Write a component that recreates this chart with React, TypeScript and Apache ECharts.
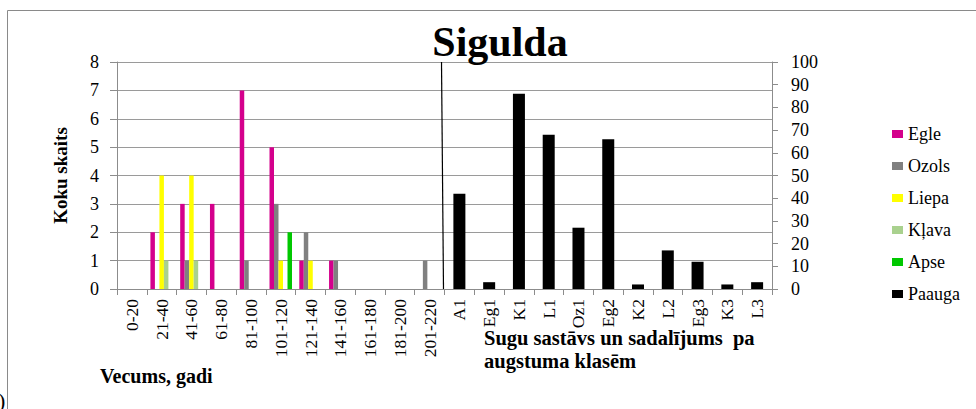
import React, { useEffect, useRef } from "react";
import * as echarts from "echarts";

const ageClasses = ["0-20", "21-40", "41-60", "61-80", "81-100", "101-120", "121-140", "141-160", "161-180", "181-200", "201-220"];
const heightClasses = ["A1", "Eg1", "K1", "L1", "Oz1", "Eg2", "K2", "L2", "Eg3", "K3", "L3"];
const categories = [...ageClasses, ...heightClasses];

const egle = [0, 2, 3, 3, 7, 5, 1, 1, 0, 0, 0];
const ozols = [0, 0, 1, 0, 1, 3, 2, 1, 0, 0, 1];
const liepa = [0, 4, 4, 0, 0, 1, 1, 0, 0, 0, 0];
const klava = [0, 1, 1, 0, 0, 0, 0, 0, 0, 0, 0];
const apse = [0, 0, 0, 0, 0, 2, 0, 0, 0, 0, 0];
const paauga = [42, 3, 86, 68, 27, 66, 2, 17, 12, 2, 3];

const leftTicks = { min: 0, max: 8, interval: 1 };
const rightTicks = { min: 0, max: 100, interval: 10 };

const SERIF = "'Liberation Serif', 'Times New Roman', serif";

export default function App() {
  const ref = useRef<HTMLDivElement>(null);
  useEffect(() => {
    if (!ref.current) return;
    const chart = echarts.init(ref.current, null, { renderer: "svg" });
    const pad = (arr: number[]) => [...arr, ...heightClasses.map(() => null)];
    const species = [
      { name: "Egle", data: egle, color: "#d4008c" },
      { name: "Ozols", data: ozols, color: "#808080" },
      { name: "Liepa", data: liepa, color: "#ffff00" },
      { name: "Kļava", data: klava, color: "#a9d18e" },
      { name: "Apse", data: apse, color: "#00c800" },
    ];
    const axisGray = "#8c8c8c";
    const option: any = {
      animation: false,
      backgroundColor: "#ffffff",
      title: {
        text: "Sigulda",
        left: 495,
        top: 16,
        textAlign: "center",
        textStyle: { fontFamily: SERIF, fontWeight: "bold", fontSize: 42, color: "#000" },
      },
      legend: {
        orient: "vertical",
        left: 887,
        top: 120,
        itemWidth: 11,
        itemHeight: 8,
        itemGap: 14,
        icon: "rect",
        textStyle: { fontFamily: SERIF, fontSize: 18, lineHeight: 17, color: "#000" },
        data: ["Egle", "Ozols", "Liepa", "Kļava", "Apse", "Paauga"],
      },
      grid: { left: 117, right: 204, top: 62, bottom: 120 },
      xAxis: [
        {
          type: "category",
          data: categories,
          axisLine: { lineStyle: { color: axisGray } },
          axisTick: { show: true, interval: 0, length: 6, lineStyle: { color: axisGray } },
          axisLabel: {
            interval: 0,
            rotate: 90,
            margin: 10,
            fontFamily: SERIF,
            fontSize: 17.5,
            color: "#000",
          },
        },
        { type: "category", data: categories, show: false },
      ],
      yAxis: [
        {
          type: "value",
          ...leftTicks,
          name: "Koku skaits",
          nameLocation: "middle",
          nameRotate: 90,
          nameGap: 47,
          nameTextStyle: { fontFamily: SERIF, fontWeight: "bold", fontSize: 19, color: "#000" },
          axisLine: { show: true, lineStyle: { color: axisGray } },
          axisTick: { show: true, length: 7, lineStyle: { color: axisGray } },
          axisLabel: { margin: 18, fontFamily: SERIF, fontSize: 18, color: "#000" },
          splitLine: { show: true, lineStyle: { color: "#9a9a9a", width: 1 } },
        },
        {
          type: "value",
          ...rightTicks,
          position: "right",
          axisLine: { show: true, lineStyle: { color: axisGray } },
          axisTick: { show: true, length: 6, lineStyle: { color: axisGray } },
          axisLabel: { margin: 19, fontFamily: SERIF, fontSize: 18, color: "#000" },
          splitLine: { show: false },
        },
      ],
      series: [
        ...species.map((s) => ({
          name: s.name,
          type: "bar",
          xAxisIndex: 0,
          yAxisIndex: 0,
          barWidth: 4.5,
          barGap: "0%",
          itemStyle: { color: s.color },
          data: pad(s.data),
        })),
        {
          name: "Paauga",
          type: "bar",
          xAxisIndex: 1,
          yAxisIndex: 1,
          barWidth: 12,
          itemStyle: { color: "#000000" },
          data: [...ageClasses.map(() => null), ...paauga],
        },
      ],
    };
    chart.setOption(option);

    const xa = chart.convertToPixel({ xAxisIndex: 0 }, ageClasses[ageClasses.length - 1]) as number;
    const xb = chart.convertToPixel({ xAxisIndex: 0 }, heightClasses[0]) as number;
    const yTop = chart.convertToPixel({ yAxisIndex: 0 }, leftTicks.max) as number;
    const yBot = chart.convertToPixel({ yAxisIndex: 0 }, leftTicks.min) as number;
    const xMid = (xa + xb) / 2;

    chart.setOption({
      graphic: [
        {
          id: "border",
          type: "rect",
          shape: { x: 7.5, y: 10.5, width: 1000, height: 500 },
          style: { fill: "none", stroke: "#8a8a8a", lineWidth: 1 },
          silent: true,
        },
        {
          id: "divider",
          type: "line",
          shape: { x1: xMid - 3, y1: yTop, x2: xMid - 1, y2: yBot + 1 },
          style: { stroke: "#000", lineWidth: 1.2 },
          silent: true,
        },
        {
          id: "ageTitle",
          type: "text",
          x: 100,
          y: 366,
          style: {
            text: "Vecums, gadi",
            fontFamily: SERIF,
            fontWeight: "bold",
            fontSize: 20,
            fill: "#000",
            verticalAlign: "top",
          },
        },
        {
          id: "heightTitle",
          type: "text",
          x: 484,
          y: 326,
          style: {
            text: "Sugu sastāvs un sadalījums  pa\naugstuma klasēm",
            fontFamily: SERIF,
            fontWeight: "bold",
            fontSize: 20.5,
            lineHeight: 23,
            fill: "#000",
            verticalAlign: "top",
          },
        },
        {
          id: "paren",
          type: "text",
          x: -2,
          y: 389,
          style: { text: ")", fontFamily: SERIF, fontSize: 22, fill: "#000", verticalAlign: "top" },
        },
      ],
    });

    return () => chart.dispose();
  }, []);
  return (
    <div
      ref={ref}
      style={{ position: "fixed", left: 0, top: 0, width: 976, height: 409, background: "#fff" }}
    />
  );
}
